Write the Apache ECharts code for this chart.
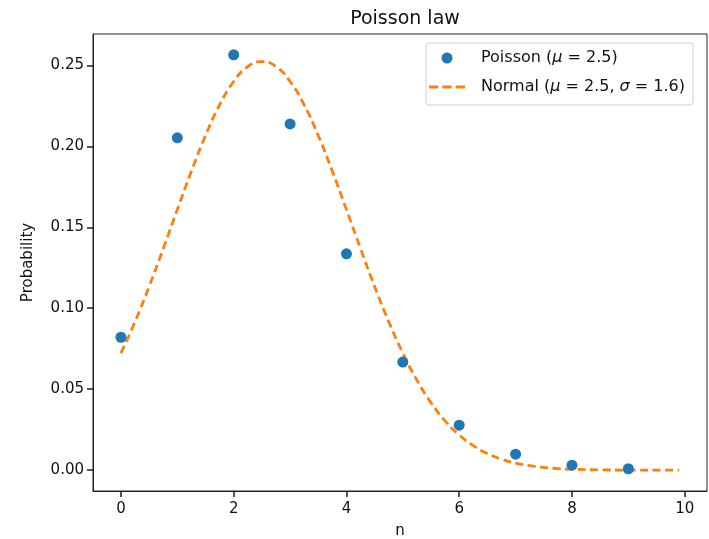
<!DOCTYPE html>
<html>
<head>
<meta charset="utf-8">
<script src="https://cdn.jsdelivr.net/npm/echarts@6/dist/echarts.min.js"></script>
<style>html,body{margin:0;padding:0;background:#fff}#c{width:709px;height:539px}</style>
</head>
<body>
<div id="c"></div>
<script>
// Poisson probabilities for n = 0..9
const poissonN = [0, 1, 2, 3, 4, 5, 6, 7, 8, 9];
const poissonP = [0.0821, 0.2052, 0.2565, 0.2138, 0.1336, 0.0668, 0.0278, 0.0099, 0.0031, 0.0009];
// Normal curve read along x
const normalX = [0, 0.25, 0.5, 0.75, 1.0, 1.25, 1.5, 1.75, 2.0, 2.25, 2.5, 2.75, 3.0, 3.25, 3.5, 3.75, 4.0, 4.25, 4.5, 4.75, 5.0, 5.25, 5.5, 5.75, 6.0, 6.25, 6.5, 6.75, 7.0, 7.25, 7.5, 7.75, 8.0, 8.5, 9.0, 9.5, 9.9];
const normalY = [0.0723, 0.0917, 0.1134, 0.1368, 0.1609, 0.1846, 0.2066, 0.2255, 0.2400, 0.2492, 0.2523, 0.2492, 0.2400, 0.2255, 0.2066, 0.1846, 0.1609, 0.1368, 0.1134, 0.0917, 0.0723, 0.0556, 0.0417, 0.0305, 0.0218, 0.0152, 0.0103, 0.0068, 0.0044, 0.0028, 0.0017, 0.0010, 0.0006, 0.0002, 0.0001, 0.0000, 0.0000];
const xTicks = [0, 2, 4, 6, 8, 10];
const yTicks = [0, 0.05, 0.10, 0.15, 0.20, 0.25];
const titleText = 'Poisson law';
const xName = 'n';
const yName = 'Probability';
const poissonName = 'Poisson (μ = 2.5)';
const normalName = 'Normal (μ = 2.5, σ = 1.6)';

const FONT = 'DejaVu Sans';
const chart = echarts.init(document.getElementById('c'), null, {renderer: 'canvas'});
chart.setOption({
  animation: false,
  backgroundColor: '#ffffff',
  textStyle: {fontFamily: FONT},
  title: {
    text: titleText, left: 400, top: 5, textAlign: 'center',
    textStyle: {fontFamily: FONT, fontSize: 19, fontWeight: 'normal', color: '#111'}
  },
  grid: {left: 93, right: 2, top: 34, bottom: 48, outerBoundsMode: 'none', containLabel: false,
    show: true, borderColor: '#222', borderWidth: 1, backgroundColor: 'transparent'},
  legend: {
    orient: 'vertical', left: 426, top: 43,
    padding: [7, 8, 10, 3], itemGap: 13,
    itemWidth: 36, itemHeight: 11,
    borderColor: '#d0d0d0', borderWidth: 1, borderRadius: 3,
    backgroundColor: 'rgba(255,255,255,0.8)',
    data: [
      {name: poissonName, icon: 'circle'},
      {name: normalName, icon: 'path://M0,0h9v3h-9z M13,0h9v3h-9z M26,0h9v3h-9z'}
    ],
    formatter: function (name) {
      return name.replace(/μ/g, '{i|μ}').replace(/σ/g, '{i|σ}');
    },
    textStyle: {
      fontFamily: FONT, fontSize: 16, color: '#111', padding: [0, 0, 0, 11],
      rich: {i: {fontFamily: FONT, fontSize: 16, fontStyle: 'italic', color: '#111'}}
    }
  },
  xAxis: {
    type: 'value', min: -0.495, max: 10.395,
    name: xName, nameLocation: 'middle', nameGap: 33,
    nameTextStyle: {fontFamily: FONT, fontSize: 15, color: '#111'},
    axisLine: {show: true, onZero: false, lineStyle: {color: '#222', width: 1}},
    splitLine: {show: false},
    axisTick: {show: true, length: 6, inside: false, customValues: xTicks, lineStyle: {color: '#222', width: 1.5}},
    axisLabel: {customValues: xTicks, margin: 11, fontFamily: FONT, fontSize: 15, color: '#111',
      formatter: v => String(Math.round(v))}
  },
  yAxis: {
    type: 'value', min: -0.01283, max: 0.26932,
    name: yName, nameLocation: 'middle', nameGap: 57, nameRotate: 90,
    nameTextStyle: {fontFamily: FONT, fontSize: 15, color: '#111'},
    axisLine: {show: true, onZero: false, lineStyle: {color: '#222', width: 1}},
    splitLine: {show: false},
    axisTick: {show: true, length: 6, inside: false, customValues: yTicks, lineStyle: {color: '#222', width: 1.5}},
    axisLabel: {customValues: yTicks, margin: 9, fontFamily: FONT, fontSize: 15, color: '#111',
      formatter: v => v.toFixed(2)}
  },
  series: [
    {
      name: normalName, type: 'line', z: 2,
      data: normalX.map((x, i) => [x, normalY[i]]),
      smooth: true, symbol: 'none', showSymbol: false,
      lineStyle: {color: '#ff7f0e', width: 2.8, type: [8, 4.5]},
      itemStyle: {color: '#ff7f0e'}
    },
    {
      name: poissonName, type: 'scatter', z: 3,
      data: poissonN.map((n, i) => [n, poissonP[i]]),
      symbol: 'circle', symbolSize: 11,
      itemStyle: {color: '#1f77b4', opacity: 1}
    }
  ]
});
</script>
</body>
</html>
